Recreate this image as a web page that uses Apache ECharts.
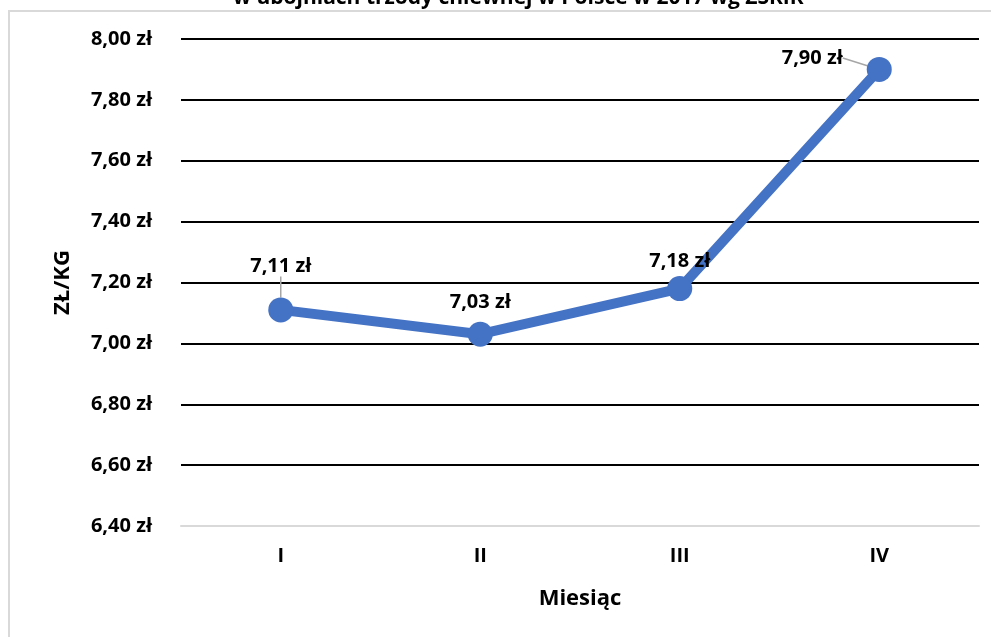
<!DOCTYPE html>
<html>
<head>
<meta charset="utf-8">
<script src="https://cdn.jsdelivr.net/npm/echarts@6/dist/echarts.min.js"></script>
<style>
html, body { margin:0; padding:0; background:#fff; }
#chart { width:991px; height:637px; }
</style>
</head>
<body>
<div id="chart"></div>
<script>
var months = ['I', 'II', 'III', 'IV'];
var prices = [7.11, 7.03, 7.18, 7.90];
var leaderShown = [true, false, false, true];
var titleText = 'w ubojniach trzody chlewnej w Polsce w 2017 wg ZSRIR';

var fnt = '"Open Sans", "Noto Sans", sans-serif';
function zl(v) {
    return v.toFixed(2).replace('.', ',') + ' zł';
}

var chart = echarts.init(document.getElementById('chart'));
var opt = {
    animation: false,
    title: {
        text: titleText,
        left: 228,
        top: -17,
        textStyle: { fontFamily: fnt, fontSize: 21, fontWeight: 'bold', color: '#000' }
    },
    graphic: [{
        type: 'rect',
        silent: true,
        shape: { x: 9, y: 11, width: 1100, height: 700 },
        style: { fill: null, stroke: '#d9d9d9', lineWidth: 2 }
    }],
    grid: { left: 181, right: 12, top: 39, bottom: 111 },
    xAxis: {
        type: 'category',
        data: months,
        boundaryGap: true,
        name: 'Miesiąc',
        nameLocation: 'middle',
        nameGap: 62,
        nameTextStyle: { fontFamily: fnt, fontSize: 22, fontWeight: 'bold', color: '#000' },
        axisLine: { lineStyle: { color: '#d9d9d9', width: 2 } },
        axisTick: { show: false },
        axisLabel: { fontFamily: fnt, fontSize: 20, fontWeight: 'bold', color: '#000', margin: 20 }
    },
    yAxis: {
        type: 'value',
        min: 6.4,
        max: 8.0,
        interval: 0.2,
        name: 'ZŁ/KG',
        nameLocation: 'middle',
        nameRotate: 90,
        nameGap: 107,
        nameTextStyle: { fontFamily: fnt, fontSize: 22, fontWeight: 'bold', color: '#000' },
        axisLine: { show: false },
        axisTick: { show: false },
        axisLabel: {
            fontFamily: fnt, fontSize: 20, fontWeight: 'bold', color: '#000', margin: 29,
            formatter: function (v) { return zl(v); }
        },
        splitLine: {
            lineStyle: {
                color: ['#d9d9d9', '#000', '#000', '#000', '#000', '#000', '#000', '#000', '#000'],
                width: 2
            }
        }
    },
    series: [{
        type: 'line',
        data: prices.map(function (v, i) {
            return { value: v, labelLine: { show: leaderShown[i] } };
        }),
        symbol: 'circle',
        symbolSize: 25,
        lineStyle: { color: '#4472c4', width: 10 },
        itemStyle: { color: '#4472c4' },
        label: {
            show: true,
            position: 'top',
            distance: 5,
            fontFamily: fnt, fontSize: 20, fontWeight: 'bold', color: '#000',
            formatter: function (p) { return zl(p.value); }
        },
        labelLine: { show: true, lineStyle: { color: '#a6a6a6', width: 1.5 } },
        labelLayout: function (p) {
            if (p.dataIndex === 0) return { dy: -16 };
            if (p.dataIndex === 1) return { dy: -4 };
            if (p.dataIndex === 2) return { dy: 0 };
            return { dx: -67, dy: 16 };
        }
    }]
};
chart.setOption(opt);
</script>
</body>
</html>
